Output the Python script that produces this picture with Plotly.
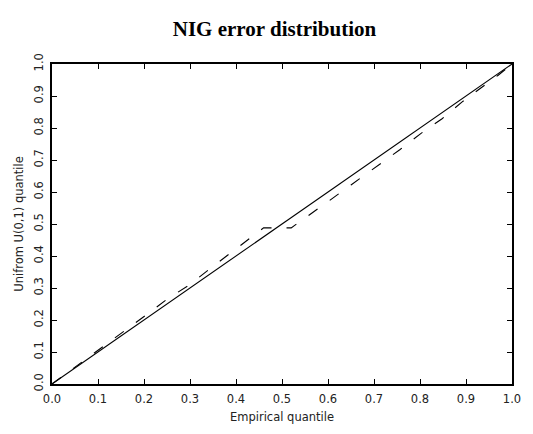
import plotly.graph_objects as go

# Data
ref_x = [0.0, 1.0]
ref_y = [0.0, 1.0]
emp_x = [0.0, 0.05, 0.10, 0.16, 0.205, 0.25, 0.30, 0.343, 0.39, 0.43, 0.46, 0.52,
         0.55, 0.60, 0.65, 0.70, 0.756, 0.803, 0.848, 0.891, 0.938, 0.97, 1.0]
emp_y = [0.0, 0.052, 0.106, 0.168, 0.216, 0.265, 0.311, 0.36, 0.411, 0.455, 0.488, 0.488,
         0.518, 0.570, 0.622, 0.674, 0.732, 0.784, 0.829, 0.881, 0.93, 0.965, 1.0]
tick_vals = [0.0, 0.1, 0.2, 0.3, 0.4, 0.5, 0.6, 0.7, 0.8, 0.9, 1.0]
tick_text = ["0.0", "0.1", "0.2", "0.3", "0.4", "0.5", "0.6", "0.7", "0.8", "0.9", "1.0"]

fig = go.Figure()
fig.add_trace(go.Scatter(x=ref_x, y=ref_y, mode="lines",
                         line=dict(color="black", width=1.1), showlegend=False))
fig.add_trace(go.Scatter(x=emp_x, y=emp_y, mode="lines",
                         line=dict(color="black", width=1.1, dash="11px,15px"),
                         showlegend=False))

axis_font = dict(family="DejaVu Sans", size=11.5, color="#222222")
common = dict(range=[0, 1], tickvals=tick_vals, ticktext=tick_text,
              showline=True, linecolor="black", linewidth=2, mirror="allticks",
              ticks="inside", ticklen=5, tickwidth=1, tickcolor="black",
              showgrid=False, zeroline=False, tickfont=axis_font)

fig.update_layout(
    width=533, height=434,
    margin=dict(l=52, r=13, t=64, b=42),
    paper_bgcolor="white", plot_bgcolor="white",
    title=dict(text="<b>NIG error distribution</b>", x=0.515, xanchor="center",
               y=0.935, yanchor="middle",
               font=dict(family="Liberation Serif", size=21, color="black")),
    xaxis=dict(**common, ticklabelstandoff=3,
               title=dict(text="Empirical quantile", font=axis_font, standoff=8)),
    yaxis=dict(**common, tickangle=-90, ticklabelstandoff=2,
               title=dict(text="Unifrom U(0,1) quantile", font=axis_font, standoff=6)),
)

fig.write_html("out.html")
